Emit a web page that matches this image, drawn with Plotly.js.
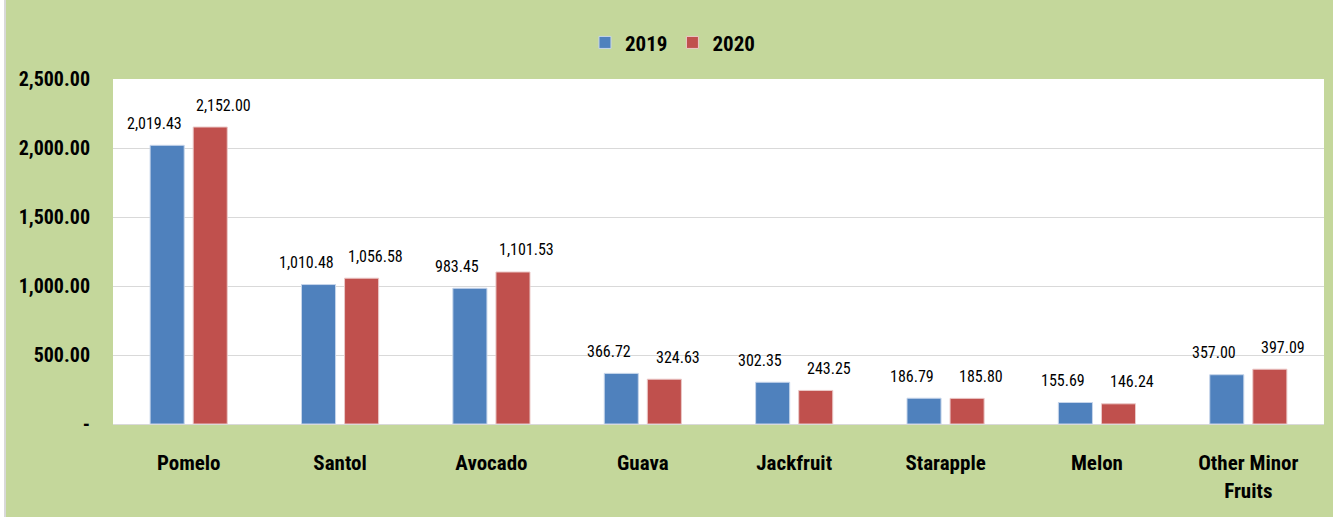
<!DOCTYPE html>
<html>
<head>
<meta charset="utf-8">
<script src="https://cdn.plot.ly/plotly-3.0.1.min.js"></script>
<style>
html,body{margin:0;padding:0;background:#ffffff;}
#wrap{position:absolute;left:0;top:0;width:1333px;height:517px;background:#ffffff;}
#edge{position:absolute;left:4px;top:0;width:2px;height:517px;background:#d9d9d9;}
#chart{position:absolute;left:6px;top:0;width:1327px;height:517px;}
</style>
</head>
<body>
<div id="wrap"><div id="edge"></div><div id="chart"></div></div>
<script>
const categories = ["Pomelo","Santol","Avocado","Guava","Jackfruit","Starapple","Melon","Other Minor<br>Fruits"];
const values2019 = [2019.43,1010.48,983.45,366.72,302.35,186.79,155.69,357.00];
const values2020 = [2152.00,1056.58,1101.53,324.63,243.25,185.80,146.24,397.09];
const tickValues = [0,500,1000,1500,2000,2500];
const tickLabels = ["-","500.00","1,000.00","1,500.00","2,000.00","2,500.00"];

const FONT = "'Liberation Sans Narrow','Arial Narrow','Roboto Condensed','DejaVu Sans Condensed',sans-serif";
function fmt(v){return v.toLocaleString('en-US',{minimumFractionDigits:2,maximumFractionDigits:2});}

const traces = [
  {type:'bar', name:'2019', x:categories, y:values2019, marker:{color:'#4f81bd', line:{color:'#c6d5ea', width:1}}, hoverinfo:'x+y'},
  {type:'bar', name:'2020', x:categories, y:values2020, marker:{color:'#c0504d', line:{color:'#ebc9c8', width:1}}, hoverinfo:'x+y'}
];

const annotations = [];
[[values2019,-34],[values2020,35]].forEach(([vals,dx])=>{
  vals.forEach((v,i)=>{
    annotations.push({x:categories[i], y:v, xref:'x', yref:'y', text:fmt(v), showarrow:false,
      xshift:dx, yshift:22, font:{family:FONT, size:16, color:'#000000'}});
  });
});

const layout = {
  width:1327, height:517,
  paper_bgcolor:'#c4d79b', plot_bgcolor:'#ffffff',
  margin:{l:107, r:9, t:79, b:93, pad:0},
  barmode:'group', bargap:0.431, bargroupgap:0.209,
  font:{family:FONT, color:'#000000'},
  showlegend:true,
  legend:{orientation:'h', x:0.462, xanchor:'center', y:1.105, yanchor:'middle',
          font:{family:FONT, size:21, color:'#000000', weight:'bold'}, bgcolor:'rgba(0,0,0,0)',
          itemwidth:30, traceorder:'normal'},
  annotations: annotations,
  xaxis:{type:'category', tickfont:{family:FONT, size:21, color:'#000000', weight:'bold'},
         showline:true, linecolor:'#d9d9d9', linewidth:1, ticks:'', showgrid:false, fixedrange:true,
         ticklabelstandoff:20},
  yaxis:{range:[0,2500], tickvals:tickValues, ticktext:tickLabels,
         tickfont:{family:FONT, size:20, color:'#000000', weight:'bold'},
         showgrid:true, gridcolor:'#d9d9d9', gridwidth:1, zeroline:false, showline:false,
         ticks:'', ticklabelstandoff:22, fixedrange:true}
};

Plotly.newPlot('chart', traces, layout, {displayModeBar:false, staticPlot:true});
</script>
</body>
</html>
